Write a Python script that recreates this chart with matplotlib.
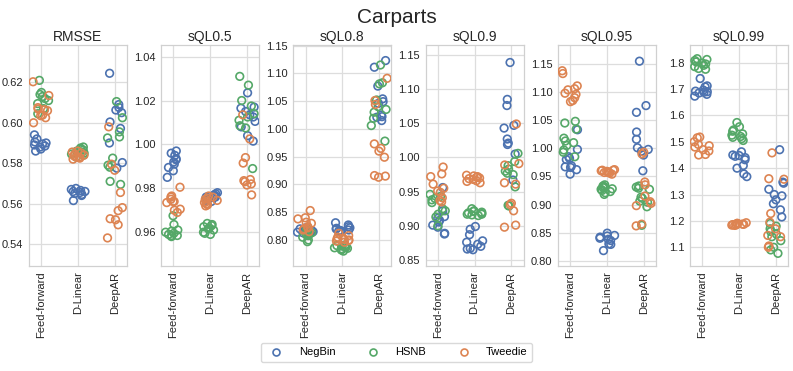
import numpy as np
import matplotlib
matplotlib.use("Agg")
import matplotlib.pyplot as plt
from matplotlib.lines import Line2D

plt.rcParams['font.family'] = ['Liberation Sans', 'DejaVu Sans']

# Categories / series
models = ["Feed-forward", "D-Linear", "DeepAR"]
dists = ["NegBin", "HSNB", "Tweedie"]
colors = {"NegBin": "#4C72B0", "HSNB": "#55A868", "Tweedie": "#DD8452"}
metrics = ["RMSSE", "sQL0.5", "sQL0.8", "sQL0.9", "sQL0.95", "sQL0.99"]

# values: metric -> model -> dist -> runs
rmsse = {
    "Feed-forward": {
        "NegBin": [0.594, 0.592, 0.590, 0.5895, 0.589, 0.588, 0.587, 0.586, 0.5885, 0.5905],
        "HSNB": [0.621, 0.615, 0.614, 0.613, 0.612, 0.611, 0.6095, 0.607, 0.6065, 0.6045],
        "Tweedie": [0.6203, 0.6135, 0.6075, 0.6068, 0.606, 0.6038, 0.6035, 0.6025, 0.600, 0.6065],
    },
    "D-Linear": {
        "NegBin": [0.5675, 0.567, 0.5665, 0.566, 0.566, 0.5655, 0.565, 0.5645, 0.564, 0.5615],
        "HSNB": [0.588, 0.5875, 0.587, 0.5865, 0.586, 0.5855, 0.585, 0.5845, 0.584, 0.583],
        "Tweedie": [0.586, 0.5855, 0.585, 0.5845, 0.584, 0.5835, 0.583, 0.583, 0.5825, 0.582],
    },
    "DeepAR": {
        "NegBin": [0.6245, 0.609, 0.6076, 0.6063, 0.605, 0.6004, 0.5972, 0.590, 0.5803, 0.5775],
        "HSNB": [0.6105, 0.6025, 0.5955, 0.593, 0.5925, 0.5825, 0.579, 0.578, 0.571, 0.5695],
        "Tweedie": [0.598, 0.5795, 0.5765, 0.5655, 0.558, 0.5565, 0.5525, 0.552, 0.5495, 0.543],
    },
}
sql05 = {
    "Feed-forward": {
        "NegBin": [0.997, 0.996, 0.995, 0.9935, 0.993, 0.992, 0.991, 0.9895, 0.988, 0.985],
        "HSNB": [0.9675, 0.9635, 0.961, 0.9605, 0.960, 0.9595, 0.959, 0.9585, 0.9585, 0.958],
        "Tweedie": [0.9805, 0.9765, 0.976, 0.975, 0.974, 0.9735, 0.974, 0.9705, 0.970, 0.969],
    },
    "D-Linear": {
        "NegBin": [0.978, 0.9775, 0.977, 0.9765, 0.976, 0.976, 0.9755, 0.975, 0.9745, 0.974],
        "HSNB": [0.964, 0.9635, 0.963, 0.9625, 0.962, 0.9615, 0.961, 0.960, 0.9595, 0.959],
        "Tweedie": [0.9765, 0.976, 0.9755, 0.975, 0.9745, 0.974, 0.9735, 0.973, 0.9725, 0.972],
    },
    "DeepAR": {
        "NegBin": [1.0235, 1.017, 1.0165, 1.015, 1.0135, 1.0125, 1.0105, 1.008, 1.004, 1.0015],
        "HSNB": [1.031, 1.027, 1.020, 1.0175, 1.014, 1.0125, 1.011, 1.0085, 1.0075, 0.989],
        "Tweedie": [1.0135, 1.0025, 0.994, 0.9915, 0.984, 0.9835, 0.983, 0.982, 0.9815, 0.977],
    },
}
sql08 = {
    "Feed-forward": {
        "NegBin": [0.822, 0.820, 0.818, 0.817, 0.816, 0.815, 0.814, 0.813, 0.812, 0.810],
        "HSNB": [0.820, 0.816, 0.813, 0.811, 0.810, 0.809, 0.808, 0.805, 0.800, 0.797],
        "Tweedie": [0.853, 0.840, 0.838, 0.832, 0.830, 0.824, 0.822, 0.820, 0.818, 0.815],
    },
    "D-Linear": {
        "NegBin": [0.831, 0.827, 0.824, 0.822, 0.821, 0.820, 0.818, 0.817, 0.816, 0.815],
        "HSNB": [0.791, 0.790, 0.789, 0.788, 0.787, 0.786, 0.785, 0.784, 0.782, 0.780],
        "Tweedie": [0.812, 0.808, 0.805, 0.803, 0.802, 0.801, 0.800, 0.799, 0.798, 0.796],
    },
    "DeepAR": {
        "NegBin": [1.123, 1.111, 1.077, 1.054, 1.049, 1.046, 1.025, 1.022, 1.021, 1.015],
        "HSNB": [1.115, 1.083, 1.081, 1.052, 1.040, 1.035, 1.030, 1.019, 1.006, 0.978],
        "Tweedie": [1.091, 1.051, 1.044, 0.973, 0.965, 0.960, 0.949, 0.916, 0.915, 0.913],
    },
}
sql09 = {
    "Feed-forward": {
        "NegBin": [0.956, 0.922, 0.9135, 0.911, 0.908, 0.9055, 0.901, 0.898, 0.889, 0.888],
        "HSNB": [0.946, 0.943, 0.940, 0.938, 0.934, 0.925, 0.922, 0.917, 0.913, 0.900],
        "Tweedie": [0.986, 0.976, 0.972, 0.961, 0.955, 0.951, 0.949, 0.941, 0.937, 0.935],
    },
    "D-Linear": {
        "NegBin": [0.899, 0.895, 0.887, 0.878, 0.876, 0.873, 0.870, 0.867, 0.866, 0.865],
        "HSNB": [0.925, 0.922, 0.921, 0.920, 0.919, 0.918, 0.917, 0.917, 0.916, 0.915],
        "Tweedie": [0.974, 0.973, 0.972, 0.971, 0.970, 0.969, 0.968, 0.966, 0.965, 0.963],
    },
    "DeepAR": {
        "NegBin": [1.139, 1.085, 1.076, 1.047, 1.043, 1.027, 1.021, 1.019, 1.005, 0.967],
        "HSNB": [1.006, 0.994, 0.988, 0.983, 0.980, 0.977, 0.975, 0.957, 0.930, 0.929],
        "Tweedie": [1.049, 0.991, 0.989, 0.963, 0.961, 0.933, 0.931, 0.922, 0.901, 0.898],
    },
}
sql095 = {
    "Feed-forward": {
        "NegBin": [1.033, 0.998, 0.985, 0.982, 0.980, 0.969, 0.967, 0.966, 0.962, 0.954],
        "HSNB": [1.048, 1.045, 1.034, 1.018, 1.013, 1.010, 1.005, 0.997, 0.993, 0.985],
        "Tweedie": [1.138, 1.133, 1.111, 1.106, 1.104, 1.098, 1.096, 1.090, 1.085, 1.083],
    },
    "D-Linear": {
        "NegBin": [0.849, 0.845, 0.844, 0.842, 0.840, 0.838, 0.836, 0.830, 0.829, 0.818],
        "HSNB": [0.935, 0.933, 0.931, 0.930, 0.928, 0.927, 0.925, 0.923, 0.921, 0.918],
        "Tweedie": [0.962, 0.961, 0.961, 0.960, 0.959, 0.958, 0.957, 0.957, 0.956, 0.954],
    },
    "DeepAR": {
        "NegBin": [1.155, 1.076, 1.064, 1.029, 1.016, 1.001, 0.998, 0.995, 0.988, 0.960],
        "HSNB": [0.933, 0.931, 0.929, 0.927, 0.913, 0.911, 0.906, 0.904, 0.896, 0.863],
        "Tweedie": [0.993, 0.990, 0.940, 0.935, 0.915, 0.905, 0.902, 0.898, 0.865, 0.862],
    },
}
sql099 = {
    "Feed-forward": {
        "NegBin": [1.740, 1.712, 1.708, 1.696, 1.692, 1.690, 1.688, 1.685, 1.680, 1.673],
        "HSNB": [1.815, 1.812, 1.808, 1.803, 1.798, 1.795, 1.790, 1.785, 1.778, 1.775],
        "Tweedie": [1.518, 1.515, 1.500, 1.490, 1.485, 1.480, 1.470, 1.465, 1.452, 1.450],
    },
    "D-Linear": {
        "NegBin": [1.462, 1.450, 1.448, 1.445, 1.440, 1.432, 1.410, 1.400, 1.378, 1.368],
        "HSNB": [1.573, 1.557, 1.545, 1.540, 1.530, 1.525, 1.520, 1.517, 1.512, 1.505],
        "Tweedie": [1.193, 1.191, 1.190, 1.189, 1.188, 1.187, 1.186, 1.185, 1.184, 1.183],
    },
    "DeepAR": {
        "NegBin": [1.470, 1.347, 1.343, 1.320, 1.300, 1.295, 1.280, 1.265, 1.242, 1.215],
        "HSNB": [1.190, 1.180, 1.170, 1.160, 1.150, 1.140, 1.125, 1.100, 1.090, 1.077],
        "Tweedie": [1.458, 1.360, 1.358, 1.228, 1.195, 1.170, 1.145, 1.140, 1.105, 1.100],
    },
}
all_data = [rmsse, sql05, sql08, sql09, sql095, sql099]

# axis limits per panel
ylims = [(0.5291, 0.6385), (0.9446, 1.0453), (0.7532, 1.151),
         (0.8412, 1.1646), (0.7906, 1.1838), (1.029, 1.867)]
ysteps = [0.02, 0.02, 0.05, 0.05, 0.05, 0.1]

rng = np.random.default_rng(3)

fig, axes = plt.subplots(1, 6, figsize=(7.93, 3.71), dpi=100)
fig.subplots_adjust(left=29/793, right=788/793, top=1-45/371, bottom=1-266/371, wspace=0.35)

for ax, name, data, ylim, step in zip(axes, metrics, all_data, ylims, ysteps):
    ax.set_axisbelow(True)
    for i, m in enumerate(models):
        for d in dists:
            vals = np.array(data[m][d])
            xs = i + rng.uniform(-0.22, 0.22, len(vals))
            ax.scatter(xs, vals, s=30, facecolors='none', edgecolors=colors[d],
                       linewidths=1.2, zorder=3)
    ax.set_xticks(range(len(models)))
    ax.set_xticklabels(models, rotation=90, fontsize=8)
    ax.set_xlim(-0.33, 2.33)
    ax.set_ylim(*ylim)
    ax.yaxis.set_major_locator(plt.MultipleLocator(step))
    ax.tick_params(axis='y', labelsize=8, length=0, pad=4, colors='#262626')
    ax.tick_params(axis='x', length=0, pad=4, colors='#262626')
    ax.grid(True, color='#dddddd', linewidth=0.9)
    for sp in ax.spines.values():
        sp.set_color('#d0d0d0')
        sp.set_linewidth(0.9)
    ax.set_title(name, fontsize=10, pad=3, color='#262626')

fig.suptitle("Carparts", fontsize=15, y=0.978, color='#262626')

handles = [Line2D([], [], marker='o', ls='', mfc='none', mec=colors[d], mew=1.2,
                  markersize=5) for d in dists]
fig.legend(handles, dists, loc='center', bbox_to_anchor=(0.5, 0.05), ncol=3,
           fontsize=8, frameon=True, columnspacing=2.4, handletextpad=1.0,
           edgecolor='#d0d0d0')

fig.savefig("out.png", dpi=100)
